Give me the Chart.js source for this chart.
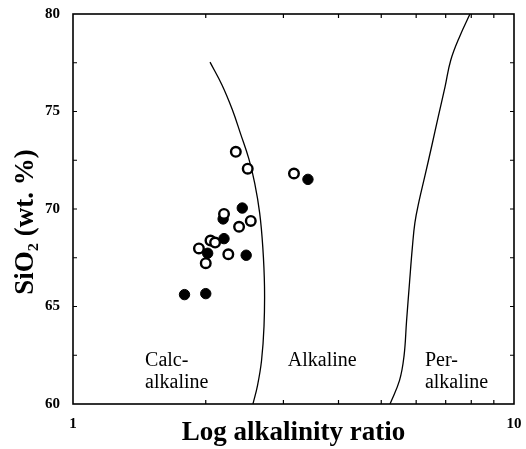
<!DOCTYPE html>
<html>
<head>
<meta charset="utf-8">
<script src="https://cdn.jsdelivr.net/npm/chart.js@4.4.1/dist/chart.umd.min.js"></script>
<style>
  html, body { margin: 0; padding: 0; background: #fff; }
  #wrap { width: 526px; height: 449px; }
</style>
</head>
<body>
<div id="wrap"><canvas id="chart"></canvas></div>
<script>
// open circles
const openX = [2.34, 2.49, 3.17, 2.20, 2.53, 2.38, 2.05, 2.10, 1.93, 2.25, 2.00];
const openY = [72.93, 72.07, 71.82, 69.75, 69.39, 69.09, 68.38, 68.28, 67.98, 67.68, 67.22];
// filled circles
const fillX = [3.41, 2.42, 2.19, 2.20, 2.02, 2.47, 1.79, 2.00];
const fillY = [71.52, 70.05, 69.49, 68.48, 67.73, 67.63, 65.61, 65.66];
// boundary Calc-alkaline / Alkaline
const line1X = [2.045, 2.177, 2.297, 2.400, 2.504, 2.583, 2.650, 2.694, 2.718, 2.711, 2.676, 2.621, 2.559];
const line1Y = [77.53, 76.36, 75.10, 73.84, 72.58, 71.31, 69.80, 68.03, 66.01, 63.99, 62.22, 60.96, 60.0];
// boundary Alkaline / Per-alkaline
const line2X = [7.946, 7.544, 7.187, 6.976, 6.736, 6.508, 6.284, 6.091, 5.960, 5.882, 5.797, 5.706, 5.632, 5.501, 5.234];
const line2Y = [80.0, 78.89, 77.63, 76.26, 74.75, 73.23, 71.72, 70.40, 69.29, 68.03, 66.26, 64.24, 62.47, 61.21, 60.0];
// field names
const fieldText = ['Calc-', 'alkaline', 'Alkaline', 'Per-', 'alkaline'];
const fieldX = [1.457, 1.457, 3.07, 6.28, 6.28];
const fieldY = [62.22, 61.11, 62.22, 62.22, 61.11];
// ticks
const xTicks = [1, 2, 3, 4, 5, 6, 7, 8, 9, 10];
const xLabels = ['1', '10'];
const yLabelStep = 5;
const yTitle = 'SiO\u2082 (wt. %)';

const pts = (xs, ys) => xs.map((x, i) => ({x: x, y: ys[i]}));
const serif = '"Liberation Serif", "DejaVu Serif", serif';

const boxTicks = {
  id: 'boxTicks',
  afterDraw(c) {
    const ctx = c.ctx, a = c.chartArea;
    const xs = c.scales.x, ys = c.scales.y;
    ctx.save();
    ctx.strokeStyle = '#000';
    ctx.lineWidth = 1.2;
    ctx.beginPath();
    xs.ticks.forEach(t => {
      if (t.value <= xs.min || t.value >= xs.max) return;
      const px = xs.getPixelForValue(t.value);
      ctx.moveTo(px, a.bottom); ctx.lineTo(px, a.bottom - 4);
      ctx.moveTo(px, a.top); ctx.lineTo(px, a.top + 4);
    });
    ys.ticks.forEach(t => {
      if (t.value <= ys.min || t.value >= ys.max) return;
      const py = ys.getPixelForValue(t.value);
      ctx.moveTo(a.left, py); ctx.lineTo(a.left + 4, py);
      ctx.moveTo(a.right, py); ctx.lineTo(a.right - 4, py);
    });
    ctx.stroke();
    ctx.lineWidth = 1.6;
    ctx.strokeRect(a.left, a.top, a.right - a.left, a.bottom - a.top);
    ctx.fillStyle = '#000';
    ctx.font = '20px ' + serif;
    ctx.textAlign = 'left';
    ctx.textBaseline = 'middle';
    fieldText.forEach((s, i) => {
      ctx.fillText(s, xs.getPixelForValue(fieldX[i]), ys.getPixelForValue(fieldY[i]));
    });
    // y axis title
    ctx.translate(26, (a.top + a.bottom) / 2 + 13);
    ctx.rotate(-Math.PI / 2);
    ctx.textAlign = 'center';
    ctx.font = 'bold 27px ' + serif;
    ctx.fillText(yTitle, 0, 0);
    ctx.restore();
  }
};

new Chart(document.getElementById('chart'), {
  type: 'scatter',
  data: {
    datasets: [
      {data: pts(openX, openY), backgroundColor: '#fff', borderColor: '#000', borderWidth: 2.4, pointRadius: 4.8, order: 0},
      {data: pts(fillX, fillY), backgroundColor: '#000', borderColor: '#000', borderWidth: 1, pointRadius: 5.2, order: 1},
      {data: pts(line1X, line1Y), showLine: true, tension: 0.4, borderColor: '#000', borderWidth: 1.3, pointRadius: 0, order: 2},
      {data: pts(line2X, line2Y), showLine: true, tension: 0.4, borderColor: '#000', borderWidth: 1.3, pointRadius: 0, order: 3}
    ]
  },
  options: {
    responsive: true,
    maintainAspectRatio: false,
    animation: false,
    layout: {padding: {top: 8, right: 12, left: 0, bottom: 0}},
    plugins: {legend: {display: false}, tooltip: {enabled: false}},
    scales: {
      x: {
        type: 'logarithmic',
        min: 1, max: 10,
        afterBuildTicks: s => { s.ticks = xTicks.map(v => ({value: v})); },
        afterFit: s => { s.height = 45; },
        grid: {display: false},
        border: {display: false},
        ticks: {
          autoSkip: false, maxRotation: 0, padding: 3, color: '#000',
          font: {family: serif, size: 15, weight: 'bold'},
          callback: v => xLabels.includes(String(v)) ? String(v) : ''
        },
        title: {display: true, text: 'Log alkalinity ratio', color: '#000', padding: {top: 0, bottom: 0},
          font: {family: serif, size: 27, weight: 'bold'}}
      },
      y: {
        min: 60, max: 80,
        afterFit: s => { s.width = 73; },
        grid: {display: false},
        border: {display: false},
        ticks: {
          stepSize: 2.5, padding: 5, color: '#000',
          font: {family: serif, size: 15, weight: 'bold'},
          callback: v => v % yLabelStep === 0 ? String(v) : ''
        }
      }
    }
  },
  plugins: [boxTicks]
});
</script>
</body>
</html>
